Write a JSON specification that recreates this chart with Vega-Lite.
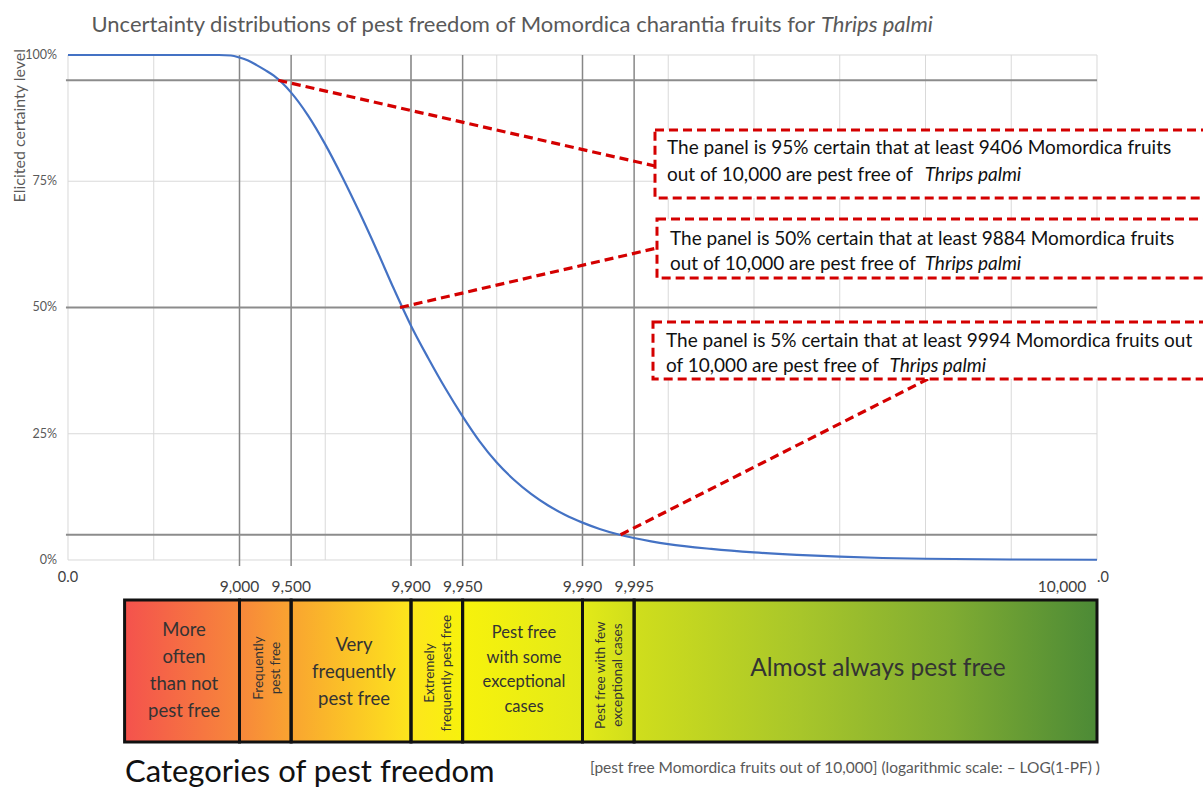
{
  "$schema": "https://vega.github.io/schema/vega-lite/v6.json",
  "width": 1203,
  "height": 790,
  "autosize": {"type": "none"},
  "padding": 0,
  "background": "white",
  "config": {"view": {"stroke": null}, "text": {"font": "Lato"}},
  "datasets": {
    "curve": [
      {"x": 0, "y": 100}, {"x": 0.5, "y": 100}, {"x": 0.88, "y": 100}, {"x": 0.95, "y": 99.9},
      {"x": 1.0, "y": 99.5}, {"x": 1.05, "y": 98.9}, {"x": 1.1, "y": 98.0}, {"x": 1.15, "y": 97.0},
      {"x": 1.2, "y": 95.9}, {"x": 1.3, "y": 92.6}, {"x": 1.4, "y": 88.0},
      {"x": 1.5, "y": 82.3}, {"x": 1.6, "y": 75.8}, {"x": 1.7, "y": 68.8}, {"x": 1.8, "y": 61.4},
      {"x": 1.9, "y": 53.7}, {"x": 2.0, "y": 46.4}, {"x": 2.1, "y": 40.0},
      {"x": 2.2, "y": 34.0}, {"x": 2.3, "y": 28.5}, {"x": 2.4, "y": 23.5}, {"x": 2.5, "y": 19.3},
      {"x": 2.6, "y": 15.9}, {"x": 2.7, "y": 13.1}, {"x": 2.8, "y": 10.8}, {"x": 2.9, "y": 8.9},
      {"x": 3.0, "y": 7.4}, {"x": 3.1, "y": 6.15}, {"x": 3.2, "y": 5.15}, {"x": 3.3, "y": 4.35},
      {"x": 3.4, "y": 3.7}, {"x": 3.5, "y": 3.15}, {"x": 3.75, "y": 2.2}, {"x": 4.0, "y": 1.5},
      {"x": 4.25, "y": 1.0}, {"x": 4.5, "y": 0.65}, {"x": 4.75, "y": 0.4}, {"x": 5.0, "y": 0.25},
      {"x": 5.5, "y": 0.1}, {"x": 6.0, "y": 0.05}
    ],
    "vgrid": [
      {"x": 0}, {"x": 0.5}, {"x": 1}, {"x": 1.5}, {"x": 2}, {"x": 2.5}, {"x": 3},
      {"x": 3.5}, {"x": 4}, {"x": 4.5}, {"x": 5}, {"x": 5.5}, {"x": 6}
    ],
    "hgrid": [{"y": 0}, {"y": 25}, {"y": 50}, {"y": 75}, {"y": 100}],
    "ylabels": [
      {"y": 0, "label": "0%"}, {"y": 25, "label": "25%"}, {"y": 50, "label": "50%"},
      {"y": 75, "label": "75%"}, {"y": 100, "label": "100%"}
    ],
    "catlines": [{"x": 1}, {"x": 1.30103}, {"x": 2}, {"x": 2.30103}, {"x": 3}, {"x": 3.30103}],
    "levels": [{"y": 95}, {"y": 50}, {"y": 5}],
    "connectors": [
      {"x": 1.226, "y": 95, "x2": 3.4227, "y2": 78.02},
      {"x": 1.936, "y": 50, "x2": 3.4344, "y2": 61.78},
      {"x": 3.222, "y": 5, "x2": 5.0146, "y2": 35.84}
    ],
    "boxes": [
      {"x": 3.4227, "x2": 6.69, "y": 85.15, "y2": 71.68},
      {"x": 3.4344, "x2": 6.69, "y": 67.52, "y2": 55.84},
      {"x": 3.4111, "x2": 6.69, "y": 47.13, "y2": 35.84}
    ],
    "boxtext": [
      {"x": 3.4927, "y": 81.58, "label": "The panel is 95% certain that at least 9406 Momordica fruits"},
      {"x": 3.4927, "y": 76.24, "label": "out of 10,000 are pest free of"},
      {"x": 3.5102, "y": 63.56, "label": "The panel is 50% certain that at least 9884 Momordica fruits"},
      {"x": 3.5102, "y": 58.61, "label": "out of 10,000 are pest free of"},
      {"x": 3.4869, "y": 43.37, "label": "The panel is 5% certain that at least 9994 Momordica fruits out"},
      {"x": 3.4869, "y": 38.42, "label": "of 10,000 are pest free of"}
    ],
    "boxitalic": [
      {"x": 4.995, "y": 76.24, "label": "Thrips palmi"},
      {"x": 4.995, "y": 58.61, "label": "Thrips palmi"},
      {"x": 4.79, "y": 38.42, "label": "Thrips palmi"}
    ],
    "categories": [
      {"x": 0.33, "x2": 1},
      {"x": 1, "x2": 1.30103},
      {"x": 1.30103, "x2": 2},
      {"x": 2, "x2": 2.30103},
      {"x": 2.30103, "x2": 3},
      {"x": 3, "x2": 3.30103},
      {"x": 3.30103, "x2": 6}
    ]
  },
  "layer": [
    {
      "data": {"name": "vgrid"},
      "mark": {"type": "rule", "color": "#d9d9d9", "strokeWidth": 1},
      "encoding": {
        "x": {"field": "x", "type": "quantitative", "axis": null},
        "y": {"datum": 0, "type": "quantitative", "axis": null},
        "y2": {"datum": 100}
      }
    },
    {
      "data": {"name": "hgrid"},
      "mark": {"type": "rule", "color": "#d9d9d9", "strokeWidth": 1},
      "encoding": {
        "y": {"field": "y", "type": "quantitative", "axis": null},
        "x": {"datum": 0, "type": "quantitative", "axis": null},
        "x2": {"datum": 6}
      }
    },
    {
      "data": {"name": "catlines"},
      "mark": {"type": "rule", "color": "#878787", "strokeWidth": 1.5},
      "encoding": {
        "x": {"field": "x", "type": "quantitative", "axis": null},
        "y": {"datum": -1.2, "type": "quantitative", "axis": null},
        "y2": {"datum": 100}
      }
    },
    {
      "data": {"name": "levels"},
      "mark": {"type": "rule", "color": "#8c8c8c", "strokeWidth": 2},
      "encoding": {
        "y": {"field": "y", "type": "quantitative", "axis": null},
        "x": {"datum": -0.012, "type": "quantitative", "axis": null},
        "x2": {"datum": 6}
      }
    },
    {
      "data": {"name": "curve"},
      "mark": {"type": "line", "color": "#4472c4", "strokeWidth": 2.2, "interpolate": "monotone"},
      "encoding": {
        "x": {"field": "x", "type": "quantitative", "axis": null,
              "scale": {"domain": [-0.3965, 6.61808], "nice": false, "zero": false}},
        "y": {"field": "y", "type": "quantitative", "axis": null,
              "scale": {"domain": [-45.545, 110.891], "nice": false, "zero": false}}
      }
    },
    {
      "data": {"name": "ylabels"},
      "mark": {"type": "text", "align": "right", "baseline": "middle", "fontSize": 12.5, "color": "#595959", "font": "Lato"},
      "encoding": {
        "x": {"datum": -0.064, "type": "quantitative", "axis": null},
        "y": {"field": "y", "type": "quantitative", "axis": null},
        "text": {"field": "label"}
      }
    },
    {
      "data": {"values": [{"label": "Elicited certainty level"}]},
      "mark": {"type": "text", "align": "right", "baseline": "middle", "angle": 270, "fontSize": 16, "color": "#595959", "font": "Lato"},
      "encoding": {
        "x": {"datum": -0.28, "type": "quantitative", "axis": null},
        "y": {"datum": 101.2, "type": "quantitative", "axis": null},
        "text": {"field": "label"}
      }
    },
    {
      "data": {"name": "connectors"},
      "mark": {"type": "rule", "color": "#d40000", "strokeWidth": 3.2, "strokeDash": [9, 5]},
      "encoding": {
        "x": {"field": "x", "type": "quantitative", "axis": null},
        "y": {"field": "y", "type": "quantitative", "axis": null},
        "x2": {"field": "x2"},
        "y2": {"field": "y2"}
      }
    },
    {
      "data": {"name": "boxes"},
      "mark": {"type": "rect", "fill": "white", "stroke": "#d40000", "strokeWidth": 3, "strokeDash": [9, 5]},
      "encoding": {
        "x": {"field": "x", "type": "quantitative", "axis": null},
        "x2": {"field": "x2"},
        "y": {"field": "y", "type": "quantitative", "axis": null},
        "y2": {"field": "y2"}
      }
    },
    {
      "data": {"name": "boxtext"},
      "mark": {"type": "text", "align": "left", "baseline": "middle", "fontSize": 19, "color": "#111111", "font": "Lato"},
      "encoding": {
        "x": {"field": "x", "type": "quantitative", "axis": null},
        "y": {"field": "y", "type": "quantitative", "axis": null},
        "text": {"field": "label"}
      }
    },
    {
      "data": {"name": "boxitalic"},
      "mark": {"type": "text", "align": "left", "baseline": "middle", "fontSize": 19, "fontStyle": "italic", "color": "#111111", "font": "Lato"},
      "encoding": {
        "x": {"field": "x", "type": "quantitative", "axis": null},
        "y": {"field": "y", "type": "quantitative", "axis": null},
        "text": {"field": "label"}
      }
    },
    {
      "data": {"values": [{"name": "bar"}]},
      "mark": {"type": "rect", "fill": {
        "gradient": "linear", "x1": 0, "y1": 0, "x2": 1, "y2": 0,
        "stops": [
          {"offset": 0, "color": "#f4524d"},
          {"offset": 0.122, "color": "#f7893a"},
          {"offset": 0.173, "color": "#f9a530"},
          {"offset": 0.297, "color": "#fde61c"},
          {"offset": 0.348, "color": "#f7f20c"},
          {"offset": 0.471, "color": "#e3ea18"},
          {"offset": 0.524, "color": "#d0de1c"},
          {"offset": 0.695, "color": "#a8c62a"},
          {"offset": 0.849, "color": "#80ac32"},
          {"offset": 1, "color": "#4c8a36"}
        ]}},
      "encoding": {
        "x": {"datum": 0.33, "type": "quantitative", "axis": null},
        "x2": {"datum": 6},
        "y": {"datum": -7.92, "type": "quantitative", "axis": null},
        "y2": {"datum": -36.04}
      }
    },
    {
      "data": {"name": "categories"},
      "mark": {"type": "rect", "fill": "white", "fillOpacity": 0, "stroke": "#111111", "strokeWidth": 3},
      "encoding": {
        "x": {"field": "x", "type": "quantitative", "axis": null},
        "x2": {"field": "x2"},
        "y": {"datum": -7.92, "type": "quantitative", "axis": null},
        "y2": {"datum": -36.04}
      }
    },
    {
      "data": {"values": [
        {"x": 0.6764, "y": -13.86, "label": "More\noften\nthan not\npest free"},
        {"x": 1.6676, "y": -16.83, "label": "Very\nfrequently\npest free"}
      ]},
      "mark": {"type": "text", "align": "center", "baseline": "middle", "fontSize": 18.5, "lineHeight": 27, "lineBreak": "\n", "color": "#333333", "font": "Lato"},
      "encoding": {
        "x": {"field": "x", "type": "quantitative", "axis": null},
        "y": {"field": "y", "type": "quantitative", "axis": null},
        "text": {"field": "label"}
      }
    },
    {
      "data": {"values": [
        {"x": 2.659, "y": -14.46, "label": "Pest free\nwith some\nexceptional\ncases"}
      ]},
      "mark": {"type": "text", "align": "center", "baseline": "middle", "fontSize": 16.5, "lineHeight": 24.5, "lineBreak": "\n", "color": "#333333", "font": "Lato"},
      "encoding": {
        "x": {"field": "x", "type": "quantitative", "axis": null},
        "y": {"field": "y", "type": "quantitative", "axis": null},
        "text": {"field": "label"}
      }
    },
    {
      "data": {"values": [
        {"x": 1.1166, "y": -21.39, "label": "Frequently\npest free"},
        {"x": 2.1079, "y": -22.4, "label": "Extremely\nfrequently pest free"},
        {"x": 3.105, "y": -22.8, "label": "Pest free with few\nexceptional cases"}
      ]},
      "mark": {"type": "text", "align": "center", "baseline": "middle", "angle": 270, "fontSize": 13.5, "lineHeight": 17, "lineBreak": "\n", "color": "#333333", "font": "Lato"},
      "encoding": {
        "x": {"field": "x", "type": "quantitative", "axis": null},
        "y": {"field": "y", "type": "quantitative", "axis": null},
        "text": {"field": "label"}
      }
    },
    {
      "data": {"values": [{"label": "Almost always pest free"}]},
      "mark": {"type": "text", "align": "center", "baseline": "middle", "fontSize": 24.5, "color": "#333333", "font": "Lato"},
      "encoding": {
        "x": {"datum": 4.723, "type": "quantitative", "axis": null},
        "y": {"datum": -21.58, "type": "quantitative", "axis": null},
        "text": {"field": "label"}
      }
    },
    {
      "data": {"values": [{"x": 0, "label": "0.0"}, {"x": 6.035, "label": ".0"}]},
      "mark": {"type": "text", "align": "center", "baseline": "middle", "fontSize": 14.5, "color": "#404040", "font": "Lato"},
      "encoding": {
        "x": {"field": "x", "type": "quantitative", "axis": null},
        "y": {"datum": -3.56, "type": "quantitative", "axis": null},
        "text": {"field": "label"}
      }
    },
    {
      "data": {"values": [
        {"x": 1, "label": "9,000"}, {"x": 1.30103, "label": "9,500"},
        {"x": 2, "label": "9,900"}, {"x": 2.30103, "label": "9,950"},
        {"x": 3, "label": "9,990"}, {"x": 3.30103, "label": "9,995"},
        {"x": 5.796, "label": "10,000"}
      ]},
      "mark": {"type": "text", "align": "center", "baseline": "middle", "fontSize": 15.5, "color": "#404040", "font": "Lato"},
      "encoding": {
        "x": {"field": "x", "type": "quantitative", "axis": null},
        "y": {"datum": -5.35, "type": "quantitative", "axis": null},
        "text": {"field": "label"}
      }
    },
    {
      "data": {"values": [{"label": "Uncertainty distributions of pest freedom of Momordica charantia fruits for"}]},
      "mark": {"type": "text", "align": "right", "baseline": "middle", "fontSize": 22, "color": "#595959", "font": "Lato"},
      "encoding": {
        "x": {"datum": 4.3557, "type": "quantitative", "axis": null},
        "y": {"datum": 105.94, "type": "quantitative", "axis": null},
        "text": {"field": "label"}
      }
    },
    {
      "data": {"values": [{"label": "Thrips palmi"}]},
      "mark": {"type": "text", "align": "left", "baseline": "middle", "fontSize": 22, "fontStyle": "italic", "color": "#595959", "font": "Lato"},
      "encoding": {
        "x": {"datum": 4.3907, "type": "quantitative", "axis": null},
        "y": {"datum": 105.94, "type": "quantitative", "axis": null},
        "text": {"field": "label"}
      }
    },
    {
      "data": {"values": [{"label": "Categories of pest freedom"}]},
      "mark": {"type": "text", "align": "left", "baseline": "middle", "fontSize": 31, "color": "#111111", "font": "Lato"},
      "encoding": {
        "x": {"datum": 0.3324, "type": "quantitative", "axis": null},
        "y": {"datum": -42.2, "type": "quantitative", "axis": null},
        "text": {"field": "label"}
      }
    },
    {
      "data": {"values": [{"label": "[pest  free Momordica fruits out of 10,000] (logarithmic scale: – LOG(1-PF) )"}]},
      "mark": {"type": "text", "align": "right", "baseline": "middle", "fontSize": 15.5, "color": "#595959", "font": "Lato"},
      "encoding": {
        "x": {"datum": 6.0175, "type": "quantitative", "axis": null},
        "y": {"datum": -41.19, "type": "quantitative", "axis": null},
        "text": {"field": "label"}
      }
    }
  ]
}
